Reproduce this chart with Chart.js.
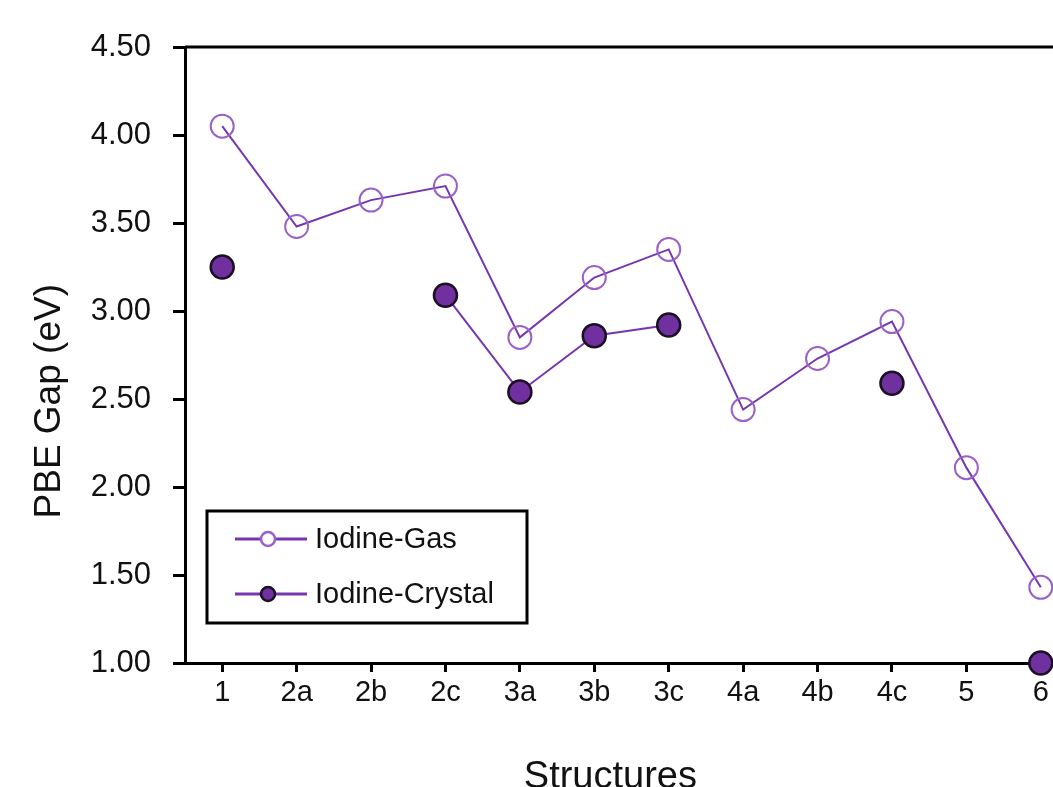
<!DOCTYPE html>
<html>
<head>
<meta charset="utf-8">
<script src="https://cdn.jsdelivr.net/npm/chart.js@4/dist/chart.umd.min.js"></script>
<style>
  html, body { margin: 0; padding: 0; background: #fff; overflow: hidden; }
  #wrap { width: 1222px; height: 800px; }
</style>
</head>
<body>
<div id="wrap"><canvas id="graf_gap" width="1222" height="800"></canvas></div>
<script>
const structures = ['1', '2a', '2b', '2c', '3a', '3b', '3c', '4a', '4b', '4c', '5', '6']
const gasGap = [4.05, 3.48, 3.63, 3.71, 2.85, 3.19, 3.35, 2.44, 2.73, 2.94, 2.11, 1.43]
const crystalGap = [3.25, null, null, 3.09, 2.54, 2.86, 2.92, null, null, 2.59, null, 1.00]
const yTicks = [1.00, 1.50, 2.00, 2.50, 3.00, 3.50, 4.00, 4.50]

const fontName = "'Liberation Sans', Arial, sans-serif"
const textColor = '#111'

// legend drawn inside the plot, bottom-left, with a box round it
const boxLegend = {
  id: 'boxLegend',
  afterDraw(chart) {
    const ctx = chart.ctx
    const area = chart.chartArea
    const x0 = area.left + 22
    const y0 = area.bottom - 152
    const w = 320, h = 112
    ctx.save()
    ctx.lineWidth = 3
    ctx.strokeStyle = '#000'
    ctx.strokeRect(x0, y0, w, h)
    ctx.font = '29px ' + fontName
    ctx.textBaseline = 'middle'
    chart.data.datasets.forEach((ds, i) => {
      const y = y0 + 28 + i * 55
      ctx.beginPath()
      ctx.strokeStyle = ds.borderColor
      ctx.lineWidth = 3
      ctx.moveTo(x0 + 28, y)
      ctx.lineTo(x0 + 100, y)
      ctx.stroke()
      ctx.beginPath()
      ctx.arc(x0 + 61, y, 7, 0, Math.PI * 2)
      ctx.fillStyle = i === 0 ? '#fff' : ds.pointBackgroundColor
      ctx.fill()
      ctx.lineWidth = 2.5
      ctx.strokeStyle = ds.pointBorderColor
      ctx.stroke()
      ctx.fillStyle = textColor
      ctx.fillText(ds.label, x0 + 108, y + 1)
    })
    ctx.restore()
  }
}

// top and right edges of the plot frame
const plotFrame = {
  id: 'plotFrame',
  beforeDatasetsDraw(chart) {
    const ctx = chart.ctx
    const a = chart.chartArea
    ctx.save()
    ctx.strokeStyle = '#000'
    ctx.lineWidth = 3
    ctx.beginPath()
    ctx.moveTo(a.left, a.top)
    ctx.lineTo(a.right, a.top)
    ctx.lineTo(a.right, a.bottom)
    ctx.stroke()
    ctx.restore()
  }
}

new Chart(document.getElementById('graf_gap'), {
  type: 'line',
  data: {
    labels: structures,
    datasets: [
      {
        label: 'Iodine-Gas',
        data: gasGap,
        borderColor: '#7636b0',
        borderWidth: 2,
        pointRadius: 11.5,
        pointHoverRadius: 11.5,
        pointBorderWidth: 2,
        pointBorderColor: '#9a62c8',
        pointBackgroundColor: 'rgba(255,255,255,0)',
        tension: 0,
        clip: false
      },
      {
        label: 'Iodine-Crystal',
        data: crystalGap,
        borderColor: '#7636b0',
        borderWidth: 2,
        pointRadius: 11.5,
        pointHoverRadius: 11.5,
        pointBorderWidth: 2.5,
        pointBorderColor: '#1c1024',
        pointBackgroundColor: '#7030a0',
        tension: 0,
        spanGaps: false,
        clip: false
      }
    ]
  },
  options: {
    responsive: false,
    animation: false,
    events: [],
    layout: { padding: { left: 0, top: 47, right: 144, bottom: 0 } },
    plugins: {
      legend: { display: false },
      tooltip: { enabled: false }
    },
    scales: {
      x: {
        offset: true,
        afterFit: (scale) => { scale.height = 137 },
        grid: { drawOnChartArea: false, tickLength: 9, lineWidth: 3, color: '#000' },
        border: { display: true, width: 3, color: '#000' },
        ticks: { color: textColor, padding: 4, font: { family: fontName, size: 29 } },
        title: {
          display: true,
          text: 'Structures    ',
          color: textColor,
          padding: { top: 0, bottom: 0 },
          font: { family: fontName, size: 38 }
        }
      },
      y: {
        min: 1,
        max: 4.5,
        afterFit: (scale) => { scale.width = 185 },
        afterBuildTicks: (scale) => { scale.ticks = yTicks.map(v => ({ value: v })) },
        grid: { drawOnChartArea: false, tickLength: 12, lineWidth: 3, color: '#000' },
        border: { display: true, width: 3, color: '#000' },
        ticks: {
          color: textColor,
          padding: 22,
          font: { family: fontName, size: 31 },
          callback: (v) => Number(v).toFixed(2)
        },
        title: {
          display: true,
          text: 'PBE Gap (eV)         ',
          color: textColor,
          padding: { top: 28, bottom: 0 },
          font: { family: fontName, size: 37 }
        }
      }
    }
  },
  plugins: [plotFrame, boxLegend]
});
</script>
</body>
</html>
